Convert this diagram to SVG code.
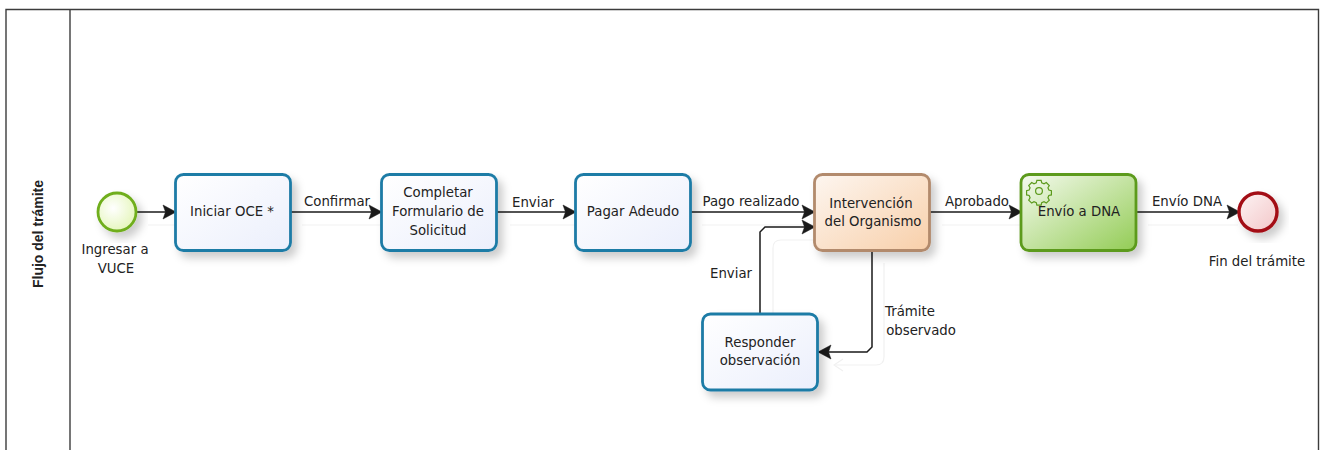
<svg xmlns="http://www.w3.org/2000/svg" width="1323" height="450" viewBox="0 0 1323 450">
<style>
text{font-family:"DejaVu Sans","Noto Sans",sans-serif;font-size:13.300px;fill:#222;text-anchor:middle}
.task{stroke-width:2.800}
.blue{fill:url(#gBlue);stroke:#1f7ba6}
.flow{fill:none;stroke:#1a1a1a;stroke-width:1.500}
.ghost{fill:none;stroke:#f1f1f1;stroke-width:1.200}
.lane{fill:none;stroke:#3c3c3c;stroke-width:1.400}
</style>
<defs>
<linearGradient id="gBlue" x1="0" y1="0" x2="1" y2="1"><stop offset="0" stop-color="#ffffff"/><stop offset="1" stop-color="#ebeffc"/></linearGradient>
<linearGradient id="gOrange" x1="0" y1="0" x2="1" y2="1"><stop offset="0" stop-color="#fdf6f0"/><stop offset="1" stop-color="#f8cfa9"/></linearGradient>
<linearGradient id="gGreen" x1="0" y1="0" x2="1" y2="1"><stop offset="0" stop-color="#f5faef"/><stop offset="1" stop-color="#93cc55"/></linearGradient>
<radialGradient id="gStart" cx="0.4" cy="0.4" r="0.7"><stop offset="0" stop-color="#ffffff"/><stop offset="1" stop-color="#e2f5b4"/></radialGradient>
<linearGradient id="gEnd" x1="0" y1="0" x2="1" y2="1"><stop offset="0" stop-color="#fdf4f4"/><stop offset="1" stop-color="#f3c6c8"/></linearGradient>
<filter id="sh" x="-20%" y="-20%" width="150%" height="150%"><feDropShadow dx="5" dy="6" stdDeviation="4" flood-color="#000" flood-opacity="0.2"/></filter>
<marker id="arrow" markerUnits="userSpaceOnUse" markerWidth="16" markerHeight="18" refX="14" refY="9" orient="auto"><path d="M1 2 L14 9 L1 16 L3.500 9 Z" fill="#1a1a1a" stroke="#1a1a1a" stroke-width=".5"/></marker>
</defs>
<rect width="1323" height="450" fill="#fff"/>
<g id="lane">
<path class="lane" d="M6 450V9.500H1318.500V450M70 9.500V450"/>
<text transform="translate(43 234) rotate(-90)" style="font-family:'Liberation Sans',Arial,sans-serif;font-weight:bold;font-size:14px">Flujo del trámite</text>
</g>
<g id="connectors">
<path class="ghost" d="M148 225H175M302 225H381M510 225H575M702 225H814M942 225H1021M1148 225H1238"/>
<path class="ghost" d="M773 313V248Q773 240 781 240H814M884 263V357Q884 365 876 365H834"/>
<path class="ghost" d="M843 359L834 365L843 371"/>
<path class="flow" marker-end="url(#arrow)" d="M136 212H176"/>
<path class="flow" marker-end="url(#arrow)" d="M290 212H382"/>
<path class="flow" marker-end="url(#arrow)" d="M497 212H576"/>
<path class="flow" marker-end="url(#arrow)" d="M691 212H815"/>
<path class="flow" marker-end="url(#arrow)" d="M930 212H1022"/>
<path class="flow" marker-end="url(#arrow)" d="M1137 212H1240"/>
<path class="flow" marker-end="url(#arrow)" d="M760 313V232L765 227H815"/>
<path class="flow" marker-end="url(#arrow)" d="M872 251V347L867 352H818"/>
</g>
<g id="labels">
<text x="337" y="206">Confirmar</text>
<text x="533" y="207">Enviar</text>
<text x="751" y="206">Pago realizado</text>
<text x="977" y="206">Aprobado</text>
<text x="1187" y="206">Envío DNA</text>
<text x="731" y="278">Enviar</text>
<text x="910" y="316">Trámite</text>
<text x="921" y="335">observado</text>
</g>
<g id="start">
<circle cx="117" cy="212" r="19" fill="url(#gStart)" stroke="#6fae1e" stroke-width="2.800" filter="url(#sh)"/>
<text x="115" y="254">Ingresar a</text>
<text x="116" y="273">VUCE</text>
</g>
<g id="iniciar">
<rect class="task blue" x="175.500" y="174.500" width="115" height="76" rx="8" filter="url(#sh)"/>
<text x="232" y="216">Iniciar OCE *</text>
</g>
<g id="completar">
<rect class="task blue" x="381.500" y="174.500" width="115" height="76" rx="8" filter="url(#sh)"/>
<text x="438" y="197">Completar</text>
<text x="438" y="216">Formulario de</text>
<text x="438" y="235">Solicitud</text>
</g>
<g id="pagar">
<rect class="task blue" x="575.500" y="174.500" width="115" height="76" rx="8" filter="url(#sh)"/>
<text x="633" y="216">Pagar Adeudo</text>
</g>
<g id="intervencion">
<rect class="task" x="814.500" y="174.500" width="115" height="76" rx="8" fill="url(#gOrange)" stroke="#b28a6c" filter="url(#sh)"/>
<text x="871" y="208">Intervención</text>
<text x="873" y="226">del Organismo</text>
</g>
<g id="responder">
<rect class="task blue" x="702.500" y="314" width="115" height="76" rx="8" filter="url(#sh)"/>
<text x="760" y="347">Responder</text>
<text x="760" y="365">observación</text>
</g>
<g id="envio">
<rect class="task" x="1021" y="174.500" width="115" height="76" rx="8" fill="url(#gGreen)" stroke="#5c9a1c" filter="url(#sh)"/>
<g fill="none" stroke="#5c9a1c" stroke-width="1.400" transform="translate(1039 191) scale(.85) translate(-1040 -193)">
<circle cx="1040" cy="193" r="4"/>
<path d="M1037.500 180.500h5l.7 3 2.700 1.100 2.700-1.600 3.500 3.500-1.600 2.700 1.100 2.700 3 .7v5l-3 .7-1.100 2.700 1.600 2.700-3.500 3.500-2.700-1.600-2.700 1.100-.7 3h-5l-.7-3-2.700-1.100-2.700 1.600-3.500-3.500 1.600-2.700-1.100-2.700-3-.7v-5l3-.7 1.100-2.700-1.600-2.700 3.500-3.500 2.700 1.600 2.700-1.100z"/>
</g>
<text x="1079" y="216">Envío a DNA</text>
</g>
<g id="fin">
<circle cx="1258" cy="212" r="19" fill="url(#gEnd)" stroke="#a30f14" stroke-width="3.400" filter="url(#sh)"/>
<text x="1257" y="266">Fin del trámite</text>
</g>
</svg>
